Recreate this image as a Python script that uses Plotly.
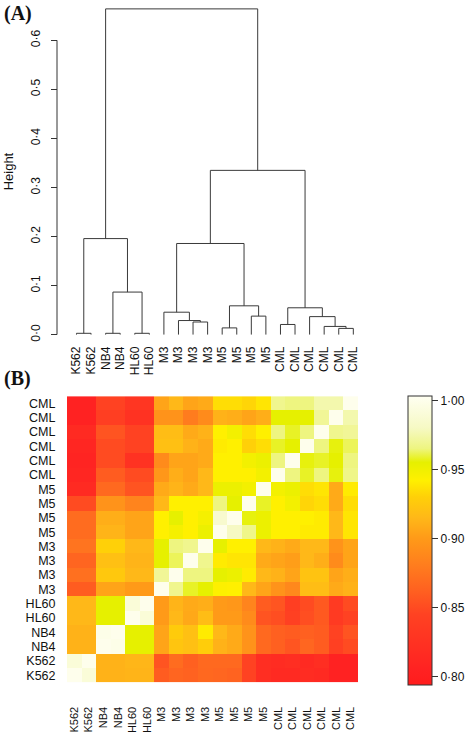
import plotly.graph_objects as go

W, H = 473, 734

leaf_labels = ["K562", "K562", "NB4", "NB4", "HL60", "HL60", "M3", "M3", "M3", "M3",
               "M5", "M5", "M5", "M5", "CML", "CML", "CML", "CML", "CML", "CML"]

# hclust-style merges: index < 20 is a leaf, index >= 20 is merge (index - 20)
merge_left = [0, 2, 4, 21, 20, 8, 7, 6, 10, 12, 28, 27, 14, 18, 17, 16, 32, 31, 24]
merge_right = [1, 3, 5, 22, 23, 9, 25, 26, 11, 13, 29, 30, 15, 19, 33, 34, 35, 36, 37]
merge_height = [0.003, 0.003, 0.003, 0.087, 0.196, 0.026, 0.029, 0.046, 0.014, 0.038,
                0.059, 0.186, 0.021, 0.013, 0.017, 0.037, 0.055, 0.335, 0.664]

height_ticks = [0.0, 0.1, 0.2, 0.3, 0.4, 0.5, 0.6]
height_tick_text = ["0·0", "0·1", "0·2", "0·3", "0·4", "0·5", "0·6"]

# similarity matrix rows (bottom row = first leaf), columns in leaf order
similarity = [
    [1.0, 0.99, 0.912, 0.912, 0.913, 0.913, 0.86, 0.865, 0.863, 0.867, 0.866, 0.864, 0.845, 0.82, 0.815, 0.815, 0.818, 0.815, 0.805, 0.805],
    [0.99, 1.0, 0.912, 0.912, 0.914, 0.914, 0.855, 0.87, 0.862, 0.868, 0.868, 0.868, 0.845, 0.82, 0.818, 0.82, 0.815, 0.82, 0.805, 0.805],
    [0.912, 0.912, 1.0, 0.998, 0.955, 0.955, 0.905, 0.923, 0.92, 0.928, 0.912, 0.908, 0.895, 0.868, 0.862, 0.856, 0.866, 0.86, 0.842, 0.85],
    [0.912, 0.912, 0.998, 1.0, 0.955, 0.955, 0.905, 0.927, 0.92, 0.94, 0.915, 0.908, 0.895, 0.868, 0.862, 0.86, 0.862, 0.86, 0.845, 0.855],
    [0.915, 0.915, 0.955, 0.955, 1.0, 0.99, 0.9, 0.915, 0.907, 0.918, 0.9, 0.9, 0.89, 0.855, 0.852, 0.842, 0.852, 0.858, 0.835, 0.845],
    [0.915, 0.915, 0.955, 0.955, 0.99, 1.0, 0.9, 0.913, 0.908, 0.91, 0.9, 0.898, 0.885, 0.86, 0.856, 0.84, 0.85, 0.858, 0.835, 0.85],
    [0.86, 0.86, 0.905, 0.905, 0.9, 0.9, 1.0, 0.968, 0.958, 0.955, 0.943, 0.942, 0.915, 0.905, 0.895, 0.888, 0.918, 0.918, 0.908, 0.912],
    [0.872, 0.872, 0.925, 0.925, 0.915, 0.915, 0.97, 1.0, 0.965, 0.965, 0.955, 0.952, 0.94, 0.915, 0.912, 0.905, 0.922, 0.922, 0.905, 0.91],
    [0.865, 0.865, 0.92, 0.92, 0.913, 0.913, 0.955, 0.962, 1.0, 0.968, 0.94, 0.938, 0.938, 0.908, 0.905, 0.902, 0.915, 0.91, 0.89, 0.905],
    [0.875, 0.875, 0.93, 0.93, 0.915, 0.915, 0.955, 0.965, 0.968, 1.0, 0.955, 0.942, 0.942, 0.915, 0.912, 0.908, 0.915, 0.915, 0.895, 0.905],
    [0.87, 0.87, 0.913, 0.913, 0.905, 0.905, 0.942, 0.947, 0.942, 0.952, 1.0, 0.98, 0.967, 0.952, 0.942, 0.942, 0.94, 0.94, 0.915, 0.938],
    [0.87, 0.87, 0.91, 0.91, 0.905, 0.905, 0.942, 0.955, 0.942, 0.947, 0.985, 1.0, 0.956, 0.952, 0.942, 0.942, 0.942, 0.94, 0.915, 0.938],
    [0.85, 0.85, 0.895, 0.895, 0.885, 0.885, 0.915, 0.942, 0.942, 0.942, 0.965, 0.955, 1.0, 0.958, 0.942, 0.948, 0.932, 0.935, 0.908, 0.935],
    [0.815, 0.815, 0.868, 0.868, 0.855, 0.855, 0.908, 0.913, 0.908, 0.915, 0.952, 0.952, 0.948, 1.0, 0.948, 0.952, 0.935, 0.938, 0.908, 0.94],
    [0.81, 0.81, 0.86, 0.86, 0.85, 0.85, 0.898, 0.91, 0.905, 0.915, 0.942, 0.942, 0.942, 0.948, 1.0, 0.965, 0.958, 0.965, 0.956, 0.967],
    [0.808, 0.808, 0.85, 0.85, 0.825, 0.825, 0.89, 0.905, 0.905, 0.908, 0.942, 0.942, 0.948, 0.952, 0.965, 1.0, 0.956, 0.958, 0.955, 0.965],
    [0.81, 0.81, 0.85, 0.85, 0.845, 0.845, 0.92, 0.92, 0.912, 0.908, 0.94, 0.942, 0.93, 0.935, 0.958, 0.955, 1.0, 0.965, 0.956, 0.962],
    [0.815, 0.815, 0.855, 0.855, 0.845, 0.845, 0.918, 0.918, 0.908, 0.912, 0.942, 0.948, 0.935, 0.942, 0.965, 0.958, 0.965, 1.0, 0.968, 0.97],
    [0.805, 0.805, 0.84, 0.84, 0.825, 0.825, 0.895, 0.895, 0.88, 0.89, 0.912, 0.91, 0.905, 0.91, 0.955, 0.955, 0.955, 0.97, 1.0, 0.975],
    [0.805, 0.805, 0.845, 0.845, 0.83, 0.83, 0.905, 0.915, 0.905, 0.908, 0.935, 0.935, 0.932, 0.938, 0.968, 0.965, 0.965, 0.975, 0.975, 1.0],
]

cb_ticks = [0.80, 0.85, 0.90, 0.95, 1.00]
cb_tick_text = ["0·80", "0·85", "0·90", "0·95", "1·00"]

ZMIN, ZMAX = 0.794, 1.003
scale_vals = [0.794, 0.805, 0.845, 0.862, 0.88, 0.90, 0.915, 0.93, 0.942, 0.955, 0.965, 0.98, 1.003]
scale_cols = ["#ff1c1c", "#ff2222", "#ff4222", "#ff6020", "#ff7c1e", "#ff9a18", "#ffb818",
              "#ffd008", "#fff000", "#e6f000", "#eef580", "#f6f9c4", "#fffff2"]
colorscale = [[(v - ZMIN) / (ZMAX - ZMIN), c] for v, c in zip(scale_vals, scale_cols)]

FONT = "Liberation Sans, Arial, sans-serif"

def px_x(p):
    return p / W

def px_y(p):
    return 1 - p / H

# ---- dendrogram segments computed from merges
n = len(leaf_labels)
pos = {i: float(i) for i in range(n)}
hgt = {i: 0.0 for i in range(n)}
xs, ys = [], []
for k, (a, b, h) in enumerate(zip(merge_left, merge_right, merge_height)):
    xa, xb = pos[a], pos[b]
    xs += [xa, xa, xb, xb, None]
    ys += [hgt[a], h, h, hgt[b], None]
    pos[n + k] = (xa + xb) / 2
    hgt[n + k] = h

fig = go.Figure()
fig.add_trace(go.Scatter(x=xs, y=ys, mode="lines", line=dict(color="#3a3a3a", width=1),
                         xaxis="x", yaxis="y", hoverinfo="skip", showlegend=False,
                         cliponaxis=False))

fig.add_trace(go.Heatmap(
    z=similarity, x=list(range(n)), y=list(range(n)), xaxis="x2", yaxis="y2",
    zmin=ZMIN, zmax=ZMAX, colorscale=colorscale, zsmooth=False,
    colorbar=dict(
        x=px_x(408), xanchor="left", xref="paper",
        y=px_y(400), yanchor="top", yref="paper",
        len=289, lenmode="pixels", thickness=24, thicknessmode="pixels",
        xpad=0, ypad=0, outlinewidth=1, outlinecolor="#333",
        ticks="outside", ticklen=6, tickcolor="#333",
        tickvals=cb_ticks, ticktext=cb_tick_text,
        tickfont=dict(family=FONT, size=12, color="#111"),
    ),
))

fig.update_layout(
    width=W, height=H, margin=dict(l=0, r=0, t=0, b=0),
    paper_bgcolor="white", plot_bgcolor="white",
    xaxis=dict(domain=[px_x(69.2), px_x(360.6)], range=[-0.5, n - 0.5], anchor="y",
               tickmode="array", tickvals=list(range(n)), ticktext=leaf_labels,
               tickangle=-90, ticks="outside", ticklen=6, tickcolor="rgba(0,0,0,0)",
               showgrid=False, zeroline=False, showline=False,
               tickfont=dict(family=FONT, size=12, color="#111")),
    yaxis=dict(domain=[px_y(338), px_y(6)], range=[0, 0.67], anchor="free",
               position=px_x(57), tickmode="array", tickvals=height_ticks,
               ticktext=height_tick_text, tickangle=-90, ticks="outside", ticklen=6,
               tickcolor="#333", showgrid=False, zeroline=False, showline=False,
               ticklabelstandoff=6,
               tickfont=dict(family=FONT, size=12, color="#111")),
    xaxis2=dict(domain=[px_x(67), px_x(358)], range=[-0.5, n - 0.5], anchor="y2",
                tickmode="array", tickvals=list(range(n)), ticktext=leaf_labels,
                tickangle=-90, ticks="outside", ticklen=19, tickcolor="rgba(0,0,0,0)",
                showgrid=False, zeroline=False, showline=False,
                tickfont=dict(family=FONT, size=11, color="#111")),
    yaxis2=dict(domain=[px_y(689), px_y(400)], range=[-0.5, n - 0.5], anchor="x2",
                tickmode="array", tickvals=list(range(n)), ticktext=leaf_labels,
                ticks="outside", ticklen=8, tickcolor="rgba(0,0,0,0)",
                showgrid=False, zeroline=False, showline=False,
                tickfont=dict(family=FONT, size=12.5, color="#111")),
    shapes=[dict(type="line", xref="paper", yref="y", x0=px_x(57), x1=px_x(57),
                 y0=height_ticks[0], y1=height_ticks[-1], line=dict(color="#333", width=1))],
    annotations=[
        dict(text="<b>(A)</b>", xref="paper", yref="paper", x=px_x(2), y=px_y(14),
             xanchor="left", yanchor="middle", showarrow=False,
             font=dict(family="Liberation Serif, Times New Roman, serif", size=20, color="#111")),
        dict(text="<b>(B)</b>", xref="paper", yref="paper", x=px_x(2), y=px_y(382),
             xanchor="left", yanchor="middle", showarrow=False,
             font=dict(family="Liberation Serif, Times New Roman, serif", size=20, color="#111")),
        dict(text="Height", xref="paper", yref="paper", x=px_x(8), y=px_y(173),
             xanchor="center", yanchor="middle", textangle=-90, showarrow=False,
             font=dict(family=FONT, size=13, color="#111")),
    ],
)

fig.write_html("out.html", config={"displayModeBar": False},
               post_script="document.body.style.margin='0';")
